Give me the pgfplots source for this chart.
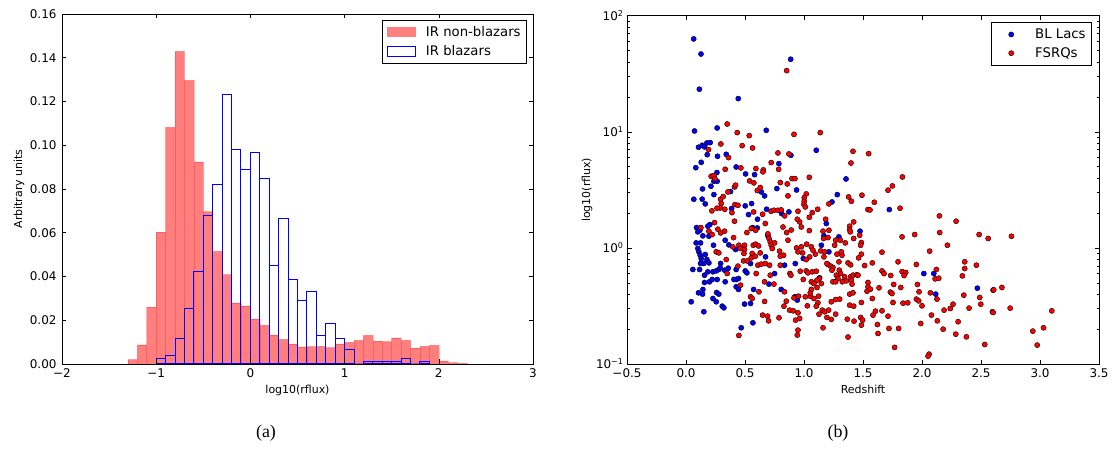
\documentclass[border=0pt]{standalone}
\usepackage{pgfplots}
\pgfplotsset{compat=1.18}
\usepackage{pgfplotstable}
\usepackage{fontspec}
\setmainfont{DejaVu Sans}
\newfontfamily\capfont{Liberation Serif}

\pgfplotstableread{
x ly
0.065 1.800
0.127 1.670
0.113 1.367
0.887 1.625
0.443 1.286
0.072 1.007
0.264 1.033
0.680 1.013
0.106 0.867
0.137 0.884
0.157 0.870
0.177 0.904
0.205 0.907
0.180 0.803
0.267 0.789
0.341 0.806
0.889 0.798
1.104 0.841
0.129 0.737
0.083 0.691
0.425 0.697
0.787 0.726
0.262 0.649
0.505 0.637
0.581 0.631
0.236 0.574
0.264 0.574
0.140 0.508
0.211 0.531
0.377 0.485
0.638 0.482
0.666 0.448
0.770 0.511
0.937 0.499
1.237 0.396
0.066 0.419
0.137 0.420
0.163 0.379
0.236 0.459
0.502 0.362
0.556 0.382
0.386 0.339
0.530 0.287
0.606 0.247
0.683 0.333
0.810 0.296
0.872 0.310
1.189 0.210
0.564 0.175
0.604 0.172
0.202 0.201
0.185 0.187
0.089 0.175
0.117 0.152
0.100 0.138
1.356 0.594
1.282 0.459
1.723 0.330
0.143 0.104
0.194 0.101
0.694 0.104
1.169 0.104
0.086 0.043
0.123 0.043
0.100 -0.005
0.109 -0.034
0.233 0.023
0.332 0.066
0.363 0.026
0.420 -0.014
0.674 -0.077
1.147 0.023
1.211 -0.034
0.120 -0.063
0.129 -0.092
0.163 -0.057
0.177 -0.100
0.151 -0.134
0.194 -0.129
0.123 -0.134
0.058 -0.186
0.115 -0.186
0.157 -0.235
0.185 -0.206
0.228 -0.206
0.256 -0.198
0.278 -0.186
0.293 -0.134
0.290 -0.172
0.327 -0.192
0.358 -0.175
0.425 -0.186
0.425 -0.272
0.406 -0.272
0.445 -0.264
0.502 -0.198
0.516 -0.215
0.547 -0.135
0.751 -0.221
0.703 -0.312
0.835 -0.149
0.926 -0.135
0.994 -0.091
1.132 -0.258
0.199 -0.292
0.157 -0.298
0.264 -0.272
0.222 -0.272
0.332 -0.292
0.106 -0.387
0.143 -0.358
0.140 -0.398
0.259 -0.384
0.278 -0.398
0.228 -0.436
0.256 -0.464
0.307 -0.502
0.321 -0.516
0.044 -0.464
0.151 -0.550
0.425 -0.335
0.445 -0.358
0.468 -0.688
0.567 -0.645
0.496 -0.484
0.547 -0.479
0.573 -0.358
0.807 -0.358
0.923 -0.421
0.943 -0.450
1.296 0.095
1.475 0.144
2.015 -0.221
2.100 -0.221
2.116 -0.398
2.469 -0.347
}\bllacs

\pgfplotstableread{
x ly
0.853 1.527
0.349 1.067
0.434 0.993
0.536 0.967
0.915 0.978
1.138 0.993
0.191 0.847
0.295 0.895
0.476 0.881
0.564 0.861
0.360 0.778
0.779 0.818
0.872 0.809
0.465 0.689
0.332 0.677
0.592 0.683
0.655 0.672
0.652 0.655
0.722 0.735
0.785 0.677
0.213 0.617
0.236 0.623
0.245 0.597
0.898 0.597
0.923 0.597
1.045 0.608
0.539 0.577
0.575 0.560
0.799 0.563
0.858 0.551
0.411 0.525
0.420 0.540
0.355 0.482
0.604 0.494
0.629 0.520
0.864 0.448
1.019 0.465
1.002 0.433
1.002 0.402
0.999 0.376
1.011 0.353
1.070 0.304
1.116 0.333
1.211 0.379
0.293 0.419
0.315 0.442
0.298 0.382
0.290 0.344
0.414 0.373
0.440 0.367
0.262 0.342
0.219 0.319
0.329 0.333
0.389 0.304
0.411 0.230
0.573 0.310
0.649 0.290
0.720 0.316
0.745 0.324
0.779 0.324
0.807 0.327
0.836 0.276
0.672 0.210
0.949 0.316
0.963 0.224
0.943 0.247
1.045 0.264
1.183 0.247
1.211 0.152
1.161 0.144
1.045 0.149
0.977 0.180
0.822 0.180
0.892 0.154
0.853 0.132
0.590 0.152
0.553 0.167
0.516 0.132
0.694 0.121
0.126 0.175
0.242 0.218
0.194 0.144
0.222 0.115
0.270 0.161
0.327 0.144
0.293 0.129
1.415 0.832
1.548 0.812
1.398 0.731
1.834 0.611
1.749 0.534
1.712 0.497
1.378 0.439
1.401 0.402
1.491 0.454
1.596 0.393
1.542 0.330
1.559 0.327
1.814 0.342
2.147 0.276
2.289 0.230
1.421 0.224
1.387 0.187
1.387 0.158
0.403 0.089
0.703 0.081
0.714 0.052
0.722 0.023
0.751 0.043
0.731 -0.005
0.864 0.066
1.166 0.081
1.203 0.089
0.397 0.009
0.448 0.023
0.459 -0.005
0.496 0.023
0.496 -0.014
0.570 0.023
0.590 0.032
0.615 0.017
0.629 -0.043
0.561 -0.048
0.553 -0.086
0.587 -0.072
0.491 -0.048
0.793 -0.028
0.827 -0.063
0.799 -0.071
0.937 0.000
0.977 0.009
0.949 -0.034
0.988 -0.043
1.022 0.032
1.062 0.009
1.096 -0.054
1.076 -0.020
1.048 -0.077
1.019 -0.100
1.141 -0.026
1.175 -0.034
1.169 -0.077
1.203 -0.143
1.226 -0.157
1.245 -0.169
0.256 -0.034
0.278 -0.043
0.341 -0.100
0.349 -0.220
0.488 -0.112
0.519 -0.112
0.440 -0.157
0.609 -0.149
0.638 -0.140
0.672 -0.135
0.708 -0.149
0.714 -0.235
0.595 -0.221
0.666 -0.292
0.745 -0.312
0.799 -0.149
0.881 -0.220
0.889 -0.235
0.968 -0.201
1.019 -0.198
1.033 -0.215
1.070 -0.206
1.104 -0.201
1.130 -0.264
1.110 -0.278
1.062 -0.292
1.084 -0.307
1.147 -0.307
0.994 -0.272
1.194 -0.135
1.237 -0.192
1.245 -0.292
0.462 -0.321
0.547 -0.421
0.561 -0.436
0.618 -0.378
0.666 -0.461
0.649 -0.579
0.691 -0.588
0.700 -0.628
0.788 -0.602
0.448 -0.754
0.835 -0.378
0.850 -0.459
0.915 -0.430
0.954 -0.416
1.011 -0.421
1.053 -0.416
1.084 -0.436
1.053 -0.387
1.062 -0.358
1.110 -0.341
1.124 -0.416
1.118 -0.473
1.104 -0.502
1.028 -0.499
0.830 -0.502
0.878 -0.536
0.909 -0.542
0.949 -0.559
0.929 -0.622
0.963 -0.608
0.949 -0.708
0.943 -0.751
1.155 -0.536
1.175 -0.550
1.127 -0.571
1.209 -0.536
1.194 -0.599
1.231 -0.616
1.161 -0.688
1.231 -0.464
1.392 0.138
1.421 0.081
1.472 0.109
1.486 0.046
1.480 0.023
1.308 0.066
1.350 0.043
1.268 0.066
1.260 0.023
1.831 0.095
1.938 0.115
2.150 0.132
2.484 0.115
2.561 0.081
2.215 0.023
2.065 -0.028
1.661 -0.037
1.279 -0.054
1.322 -0.063
1.316 -0.034
1.486 -0.054
1.463 -0.086
1.296 -0.120
1.373 -0.129
1.395 -0.146
1.514 -0.152
1.579 -0.129
1.797 -0.120
1.952 -0.143
2.362 -0.120
2.362 -0.178
2.461 -0.149
2.342 -0.241
1.299 -0.192
1.310 -0.221
1.274 -0.235
1.288 -0.264
1.344 -0.249
1.395 -0.249
1.415 -0.235
1.446 -0.232
1.401 -0.278
1.359 -0.284
1.325 -0.292
1.268 -0.292
1.661 -0.198
1.678 -0.221
1.735 -0.238
1.831 -0.204
1.862 -0.212
1.848 -0.238
2.122 -0.186
2.111 -0.267
2.142 -0.261
1.961 -0.315
1.458 -0.235
1.542 -0.298
1.542 -0.335
1.534 -0.373
1.562 -0.356
1.407 -0.312
1.387 -0.398
1.415 -0.387
1.636 -0.344
1.760 -0.315
1.820 -0.341
1.975 -0.378
2.071 -0.387
2.127 -0.441
2.354 -0.407
2.489 -0.427
2.498 -0.485
2.602 -0.364
2.597 -0.550
1.732 -0.381
1.746 -0.393
1.579 -0.436
1.754 -0.470
1.839 -0.476
1.879 -0.473
1.952 -0.441
1.972 -0.456
2.000 -0.499
2.263 -0.485
2.240 -0.522
2.187 -0.536
2.399 -0.519
1.302 -0.441
1.268 -0.445
1.387 -0.493
1.421 -0.502
1.486 -0.470
1.268 -0.571
1.605 -0.545
1.585 -0.579
1.661 -0.542
1.712 -0.588
2.080 -0.579
2.130 -0.628
1.480 -0.599
1.497 -0.622
1.486 -0.665
1.424 -0.631
1.367 -0.614
1.622 -0.660
1.989 -0.651
2.306 -0.636
1.720 -0.694
1.802 -0.694
2.179 -0.700
1.373 -0.768
1.627 -0.737
2.286 -0.743
2.376 -0.766
2.532 -0.832
1.768 -0.857
2.060 -0.915
2.051 -0.932
2.758 0.100
2.608 -0.361
2.677 -0.341
2.603 -0.556
2.747 -0.519
3.100 -0.542
2.939 -0.717
3.030 -0.688
2.976 -0.837
}\fsrqs

\begin{document}
\begin{tikzpicture}
\path[use as bounding box] (0bp,0bp) rectangle (1112bp,451bp);

\begin{axis}[
  at={(62bp,87bp)}, anchor=south west,
  scale only axis, width=471bp, height=350bp,
  xmin=-2, xmax=3, ymin=0, ymax=0.16,
  xtick={-2,-1,0,1,2,3}, xticklabels={−2,−1,0,1,2,3},
  ytick={0,0.02,0.04,0.06,0.08,0.10,0.12,0.14,0.16},
  yticklabels={0.00,0.02,0.04,0.06,0.08,0.10,0.12,0.14,0.16},
  tick label style={font=\fontsize{12}{14}\selectfont},
  yticklabel style={xshift=-2bp},
  xticklabel style={yshift=-1.5bp},
  xlabel={log10(rflux)}, ylabel={Arbitrary units},
  label style={font=\fontsize{11}{13}\selectfont, inner sep=0pt},
  xlabel style={at={(rel axis cs:0.5,0)}, anchor=north, yshift=-21bp},
  ylabel style={at={(rel axis cs:0,0.5)}, anchor=south, yshift=37.5bp},
  axis line style={line width=0.8bp},
  every tick/.style={black, line width=0.6bp},
  major tick length=4.5bp,
  axis on top,
  legend style={at={(rel axis cs:1,1)}, anchor=north east, xshift=-6bp, yshift=-6.5bp,
    font=\fontsize{13.3}{16}\selectfont, draw=black, line width=0.8bp,
    inner xsep=4bp, inner ysep=3.8bp, row sep=3.5bp, cells={anchor=west}},
]
\addlegendimage{legend image code/.code={\path[draw=none] (0bp,0bp) -- (38bp,0bp); \fill[red!50, draw=none] (1bp,-5bp) rectangle (30bp,5bp);}}
\addlegendentry{IR non-blazars}
\addlegendimage{legend image code/.code={\path[draw=none] (0bp,0bp) -- (38bp,0bp); \draw[blue, line width=1bp, fill=white] (1.5bp,-5bp) rectangle (29.5bp,5bp);}}
\addlegendentry{IR blazars}

\addplot[ybar interval, fill=red, fill opacity=0.5, draw=red, draw opacity=0.25, line width=0.6bp] coordinates {
(-1.3,0.0020) (-1.2,0.0087) (-1.1,0.0260) (-1.0,0.0603) (-0.9,0.1082) (-0.8,0.1429)
(-0.7,0.1297) (-0.6,0.0924) (-0.5,0.0696) (-0.4,0.0515) (-0.3,0.0408) (-0.2,0.0279)
(-0.1,0.0266) (0.0,0.0205) (0.1,0.0177) (0.2,0.0133) (0.3,0.0113) (0.4,0.0092)
(0.5,0.0078) (0.6,0.0079) (0.7,0.0081) (0.8,0.0075) (0.9,0.0092) (1.0,0.0099)
(1.1,0.0108) (1.2,0.0131) (1.3,0.0105) (1.4,0.0102) (1.5,0.0119) (1.6,0.0108)
(1.7,0.0072) (1.8,0.0081) (1.9,0.0085) (2.0,0.0014) (2.1,0.0006) (2.2,0.0003) (2.3,0)
};
\addplot[ybar interval, fill=none, draw=blue, line width=1bp] coordinates {
(-1.0,0.0024) (-0.9,0.0040) (-0.8,0.0118) (-0.7,0.0252) (-0.6,0.0424) (-0.5,0.0678)
(-0.4,0.0822) (-0.3,0.1231) (-0.2,0.0980) (-0.1,0.0887) (0.0,0.0967) (0.1,0.0848)
(0.2,0.0450) (0.3,0.0663) (0.4,0.0385) (0.5,0.0292) (0.6,0.0333) (0.7,0.0130)
(0.8,0.0185) (0.9,0.0118) (1.0,0.0064) (1.1,0) (1.2,0.0012) (1.3,0.0012)
(1.4,0.0012) (1.5,0.0012) (1.6,0.0024) (1.7,0) (1.8,0.0012) (1.9,0)
};
\end{axis}

\begin{axis}[
  at={(627bp,87bp)}, anchor=south west,
  scale only axis, width=472bp, height=348.3bp,
  xmin=-0.5, xmax=3.5, ymode=log, ymin=0.1, ymax=100,
  xtick={-0.5,0,0.5,1,1.5,2,2.5,3,3.5},
  xticklabels={−0.5,0.0,0.5,1.0,1.5,2.0,2.5,3.0,3.5},
  ytick={0.1,1,10,100},
  yticklabels={10\textsuperscript{−1},10\textsuperscript{0},10\textsuperscript{1},10\textsuperscript{2}},
  minor ytick={0.2,0.3,0.4,0.5,0.6,0.7,0.8,0.9,2,3,4,5,6,7,8,9,20,30,40,50,60,70,80,90},
  tick label style={font=\fontsize{12}{14}\selectfont},
  xticklabel style={yshift=-1.5bp},
  xlabel={Redshift}, ylabel={log10(rflux)},
  label style={font=\fontsize{11}{13}\selectfont, inner sep=0pt},
  xlabel style={at={(rel axis cs:0.5,0)}, anchor=north, yshift=-21bp},
  ylabel style={at={(rel axis cs:0,0.5)}, anchor=south, yshift=34.5bp},
  axis line style={line width=0.8bp},
  every tick/.style={black, line width=0.6bp},
  major tick length=4.5bp, minor tick length=2.5bp,
  legend style={at={(rel axis cs:1,1)}, anchor=north east, xshift=-7bp, yshift=-6.5bp,
    font=\fontsize{13.3}{16}\selectfont, draw=black, line width=0.8bp,
    inner xsep=4bp, inner ysep=4.3bp, row sep=3.5bp, cells={anchor=west}},
]
\addlegendimage{legend image code/.code={\path[draw=none] (0bp,0bp) -- (38bp,0bp); \draw[fill=blue, draw=black, line width=0.4bp] (16bp,0bp) circle (2.6bp);}}
\addlegendentry{BL Lacs}
\addlegendimage{legend image code/.code={\path[draw=none] (0bp,0bp) -- (38bp,0bp); \draw[fill=red, draw=black, line width=0.4bp] (16bp,0bp) circle (2.6bp);}}
\addlegendentry{FSRQs}
\addplot[only marks, mark=*, mark size=2.6bp, mark options={fill=blue, draw=black, line width=0.4bp}]
  table[x=x, y expr={10^(\thisrow{ly})}] {\bllacs};
\addplot[only marks, mark=*, mark size=2.6bp, mark options={fill=red, draw=black, line width=0.4bp}]
  table[x=x, y expr={10^(\thisrow{ly})}] {\fsrqs};
\end{axis}

\node[font=\capfont\fontsize{18}{21}\selectfont] at (266bp,18bp) {(a)};
\node[font=\capfont\fontsize{18}{21}\selectfont] at (838bp,18bp) {(b)};
\end{tikzpicture}
\end{document}
